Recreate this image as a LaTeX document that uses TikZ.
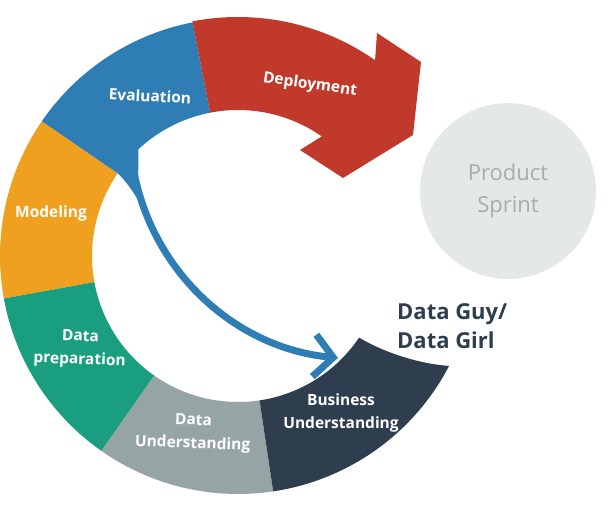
\documentclass[tikz,border=0pt]{standalone}
\usepackage{fontspec}
\setmainfont{Open Sans}
\usetikzlibrary{arrows.meta, positioning, calc}

\definecolor{evalblue}{HTML}{2E7DB4}
\definecolor{deployred}{HTML}{C0392B}
\definecolor{modelorange}{HTML}{F0A01F}
\definecolor{prepgreen}{HTML}{1A9E80}
\definecolor{dugrey}{HTML}{95A5A6}
\definecolor{budark}{HTML}{2E3E4F}
\definecolor{sprintgrey}{HTML}{E5E8E8}
\definecolor{sprinttext}{HTML}{A4AEAC}

\newcommand{\phasearc}[3]{%
  \fill[#1] ([shift={(#2:238pt)}]ring) arc[start angle=#2, end angle=#3, radius=238pt]
    -- ([shift={(#3:146pt)}]ring) arc[start angle=#3, end angle=#2, radius=146pt] -- cycle;}

\begin{document}
\begin{tikzpicture}[
    x=1pt, y=1pt,
    phase/.style={align=center, text=white, font=\bfseries\fontsize{15.5}{23}\selectfont},
    loop/.style={evalblue, line width=7pt, -{Straight Barb[length=19pt, width=42pt]}},
    sprint/.style={circle, fill=sprintgrey, minimum size=176pt, inner sep=0pt, align=center,
      text=sprinttext, font=\fontsize{22}{32}\selectfont}
  ]
  \useasboundingbox (0,0) rectangle (610,511);
  \coordinate (ring) at (238,255);
  \coordinate (loopc) at (360,382);

  \phasearc{modelorange}{145.5}{190.3}
  \phasearc{prepgreen}{190.3}{235}
  \phasearc{dugrey}{235}{278.5}

  \fill[budark] ([shift={(278.5:238pt)}]ring) arc[start angle=278.5, end angle=332.5, radius=238pt]
    .. controls (420,147) and (385,158) .. ([shift={(326:146pt)}]ring)
    arc[start angle=326, end angle=278.5, radius=146pt] -- cycle;

  \fill[evalblue] ([shift={(145.5:238pt)}]ring) arc[start angle=145.5, end angle=101, radius=238pt]
    -- ([shift={(101:146pt)}]ring) arc[start angle=101, end angle=133, radius=146pt]
    -- (138,311) .. controls (132,321) and (125,331) .. ([shift={(145.5:146pt)}]ring) -- cycle;

  \fill[deployred] ([shift={(101:239pt)}]ring) arc[start angle=101, end angle=55, radius=239pt]
    -- (377,478) -- (421,449) -- (413,376) -- (343,333) -- (300,361)
    -- ([shift={(55:146pt)}]ring) arc[start angle=55, end angle=101, radius=146pt] -- cycle;

  \coordinate (evaltail) at ([shift={(184:230pt)}]loopc);
  \draw[loop] (evaltail) arc[start angle=184, end angle=264.5, radius=230pt];

  \node[phase, rotate=-3] (evaluation) at (150,415) {Evaluation};
  \node[phase, rotate=-8] (deployment) at (310,426) {Deployment};
  \node[phase] (modeling) at (51,298) {Modeling};
  \node[phase, rotate=-2] (dataprep) at (80,162) {Data\\preparation};
  \node[phase, rotate=-2] (dataund) at (193,78) {Data\\Understanding};
  \node[phase] (busund) at (341,98) {Business\\Understanding};

  \node[sprint] (productsprint) at (508,320) {Product\\Sprint};
  \node[anchor=west, inner sep=0pt, align=left, text=budark,
    font=\bfseries\fontsize{22}{29}\selectfont] (dataguy) at (397,185) {Data Guy/\\Data Girl};
\end{tikzpicture}
\end{document}
